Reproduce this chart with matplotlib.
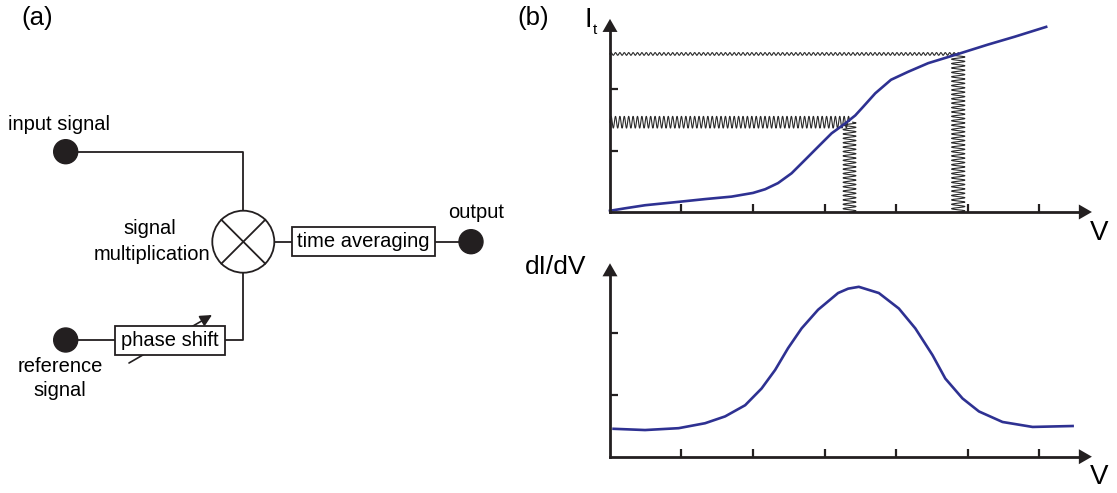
#!/usr/bin/env python3
import numpy as np
from matplotlib import pyplot as plt
from matplotlib.patches import Circle, Rectangle

plt.rcParams['font.family'] = ['Liberation Sans', 'DejaVu Sans']

# I_t(V) curve (V in tick units, I in tick units)
it_v = [0, 0.21, 0.49, 1.0, 1.33, 1.70, 2.0, 2.17, 2.35, 2.54, 2.73, 2.91,
        3.10, 3.29, 3.43, 3.54, 3.71, 3.93, 4.17, 4.45, 4.87, 5.28, 5.66, 6.10]
it_i = [0.02, 0.06, 0.11, 0.17, 0.21, 0.25, 0.31, 0.37, 0.47, 0.63, 0.85, 1.06,
        1.28, 1.44, 1.57, 1.71, 1.93, 2.15, 2.28, 2.42, 2.57, 2.72, 2.85, 3.01]

# dI/dV curve
didv_v = [0.05, 0.49, 0.96, 1.33, 1.61, 1.89, 2.12, 2.31, 2.49, 2.68, 2.91, 3.19,
          3.33, 3.48, 3.76, 4.04, 4.27, 4.51, 4.69, 4.93, 5.16, 5.49, 5.91, 6.47]
didv_g = [0.45, 0.43, 0.46, 0.54, 0.65, 0.83, 1.10, 1.40, 1.75, 2.07, 2.37, 2.64,
          2.71, 2.74, 2.64, 2.39, 2.07, 1.64, 1.26, 0.94, 0.73, 0.56, 0.48, 0.495]

# lock-in modulation: bias points, response levels, amplitudes
mod_bias = [3.35, 4.87]
mod_level = [1.46, 2.57]
mod_amp_v = [0.09, 0.093]
mod_amp_i = [0.095, 0.022]
mod_period_v = 0.0615
mod_period_i = 0.0715

x_ticks = [1, 2, 3, 4, 5, 6]
y_ticks = [1, 2]

W, H = 1117, 493
navy = '#2e3192'
ink = '#231f20'

fig = plt.figure(figsize=(W / 100, H / 100), dpi=100)

# pixel-space layer for the block diagram and labels
ax0 = fig.add_axes([0, 0, 1, 1])
ax0.set_xlim(0, W)
ax0.set_ylim(H, 0)
ax0.axis('off')


def px_axes(x0, y0, sx, sy, xlim, ylim):
    l = x0 + xlim[0] * sx
    r = x0 + xlim[1] * sx
    b = y0 - ylim[0] * sy
    t = y0 - ylim[1] * sy
    ax = fig.add_axes([l / W, 1 - b / H, (r - l) / W, (b - t) / H])
    ax.set_xlim(xlim)
    ax.set_ylim(ylim)
    ax.patch.set_alpha(0)
    return ax


def arrow_axes(ax, xtip, ytip):
    for s in ['top', 'right']:
        ax.spines[s].set_visible(False)
    ax.spines['left'].set_position(('data', 0))
    ax.spines['bottom'].set_position(('data', 0))
    ax.spines['left'].set_bounds(0, ytip - 0.1)
    ax.spines['bottom'].set_bounds(0, xtip - 0.1)
    for s in ['left', 'bottom']:
        ax.spines[s].set_linewidth(2.0)
        ax.spines[s].set_color(ink)
    ax.set_xticks(x_ticks)
    ax.set_yticks(y_ticks)
    ax.tick_params(direction='in', length=6, width=1.6, color=ink,
                   labelbottom=False, labelleft=False)
    style = '-|>,head_length=0.47,head_width=0.27'
    ax.annotate('', xy=(xtip, 0), xytext=(xtip - 0.3, 0),
                arrowprops=dict(arrowstyle=style, color=ink, lw=0,
                                mutation_scale=20, shrinkA=0, shrinkB=0),
                annotation_clip=False)
    ax.annotate('', xy=(0, ytip), xytext=(0, ytip - 0.3),
                arrowprops=dict(arrowstyle=style, color=ink, lw=0,
                                mutation_scale=20, shrinkA=0, shrinkB=0),
                annotation_clip=False)


# ---- (b) top: I_t vs V ----
ax1 = px_axes(610, 212, 71.5, 61.5, (-0.3, 7.2), (-0.3, 3.3))
arrow_axes(ax1, 6.74, 3.14)
for vb, lev, av, ai in zip(mod_bias, mod_level, mod_amp_v, mod_amp_i):
    # modulation on the current axis (horizontal wiggle)
    xs = np.linspace(0, vb, 1500)
    ax1.plot(xs, lev + ai * np.sin(2 * np.pi * xs / mod_period_v),
             color='#2a2a2a', lw=0.8)
    # modulation on the bias (vertical wiggle)
    ys = np.linspace(0, lev, 1500)
    ax1.plot(vb + av * np.sin(2 * np.pi * ys / mod_period_i), ys,
             color='#2a2a2a', lw=0.8)
ax1.plot(it_v, it_i, color=navy, lw=1.9, solid_joinstyle='round')

# ---- (b) bottom: dI/dV vs V ----
ax2 = px_axes(610, 456.7, 71.5, 62, (-0.3, 7.2), (-0.3, 3.3))
arrow_axes(ax2, 6.74, 3.12)
ax2.plot(didv_v, didv_g, color=navy, lw=1.9, solid_joinstyle='round')

# ---- (a) block diagram ----
lw = 1.3
ax0.plot([65.7, 243.3, 243.3], [151.7, 151.7, 211], color=ink, lw=lw)
ax0.plot([243.3, 243.3, 225], [272.5, 340, 340], color=ink, lw=lw)
ax0.plot([65.7, 115], [340, 340], color=ink, lw=lw)
ax0.plot([274, 291.7], [241.7, 241.7], color=ink, lw=lw)
ax0.plot([435, 471], [241.7, 241.7], color=ink, lw=lw)
for cx, cy in [(65.7, 151.7), (65.7, 340), (471, 241.7)]:
    ax0.add_patch(Circle((cx, cy), 12, color=ink, zorder=3))

ax0.add_patch(Circle((243.3, 241.7), 31, fc='white', ec=ink, lw=lw, zorder=3))
d = 31 * np.cos(np.pi / 4)
ax0.plot([243.3 - d, 243.3 + d], [241.7 - d, 241.7 + d], color=ink, lw=lw, zorder=4)
ax0.plot([243.3 - d, 243.3 + d], [241.7 + d, 241.7 - d], color=ink, lw=lw, zorder=4)

ax0.annotate('', xy=(212, 315), xytext=(129, 363),
             arrowprops=dict(arrowstyle='-|>,head_length=0.5,head_width=0.25',
                             color=ink, lw=1.2, mutation_scale=14,
                             shrinkA=0, shrinkB=0), zorder=1)
ax0.add_patch(Rectangle((115, 325.7), 110, 29.3, fc='white', ec=ink, lw=lw, zorder=3))
ax0.add_patch(Rectangle((291.7, 226.7), 143.3, 29.3, fc='white', ec=ink, lw=lw, zorder=3))

fs = 14.5
ax0.text(170, 340, 'phase shift', fontsize=fs, ha='center', va='center', zorder=5)
ax0.text(363.3, 241.7, 'time averaging', fontsize=fs, ha='center', va='center', zorder=5)
ax0.text(59, 124, 'input signal', fontsize=fs, ha='center', va='center')
ax0.text(476, 213, 'output', fontsize=fs, ha='center', va='center')
ax0.text(150, 229, 'signal', fontsize=fs, ha='center', va='center')
ax0.text(152, 254, 'multiplication', fontsize=fs, ha='center', va='center')
ax0.text(60, 367, 'reference', fontsize=fs, ha='center', va='center')
ax0.text(60, 391, 'signal', fontsize=fs, ha='center', va='center')

# panel labels and axis labels
ax0.text(37.5, 17.5, '(a)', fontsize=18.5, ha='center', va='center')
ax0.text(533, 17.5, '(b)', fontsize=18.5, ha='center', va='center')
ax0.text(588, 27, 'I', fontsize=19.5, ha='center', va='baseline')
ax0.text(594.5, 34, 't', fontsize=11, ha='center', va='baseline')
ax0.text(1099, 233, 'V', fontsize=20, ha='center', va='center')
ax0.text(1099, 477, 'V', fontsize=20, ha='center', va='center')
ax0.text(556, 267, 'dI/dV', fontsize=19, ha='center', va='center')

plt.savefig('out.png', dpi=100)
